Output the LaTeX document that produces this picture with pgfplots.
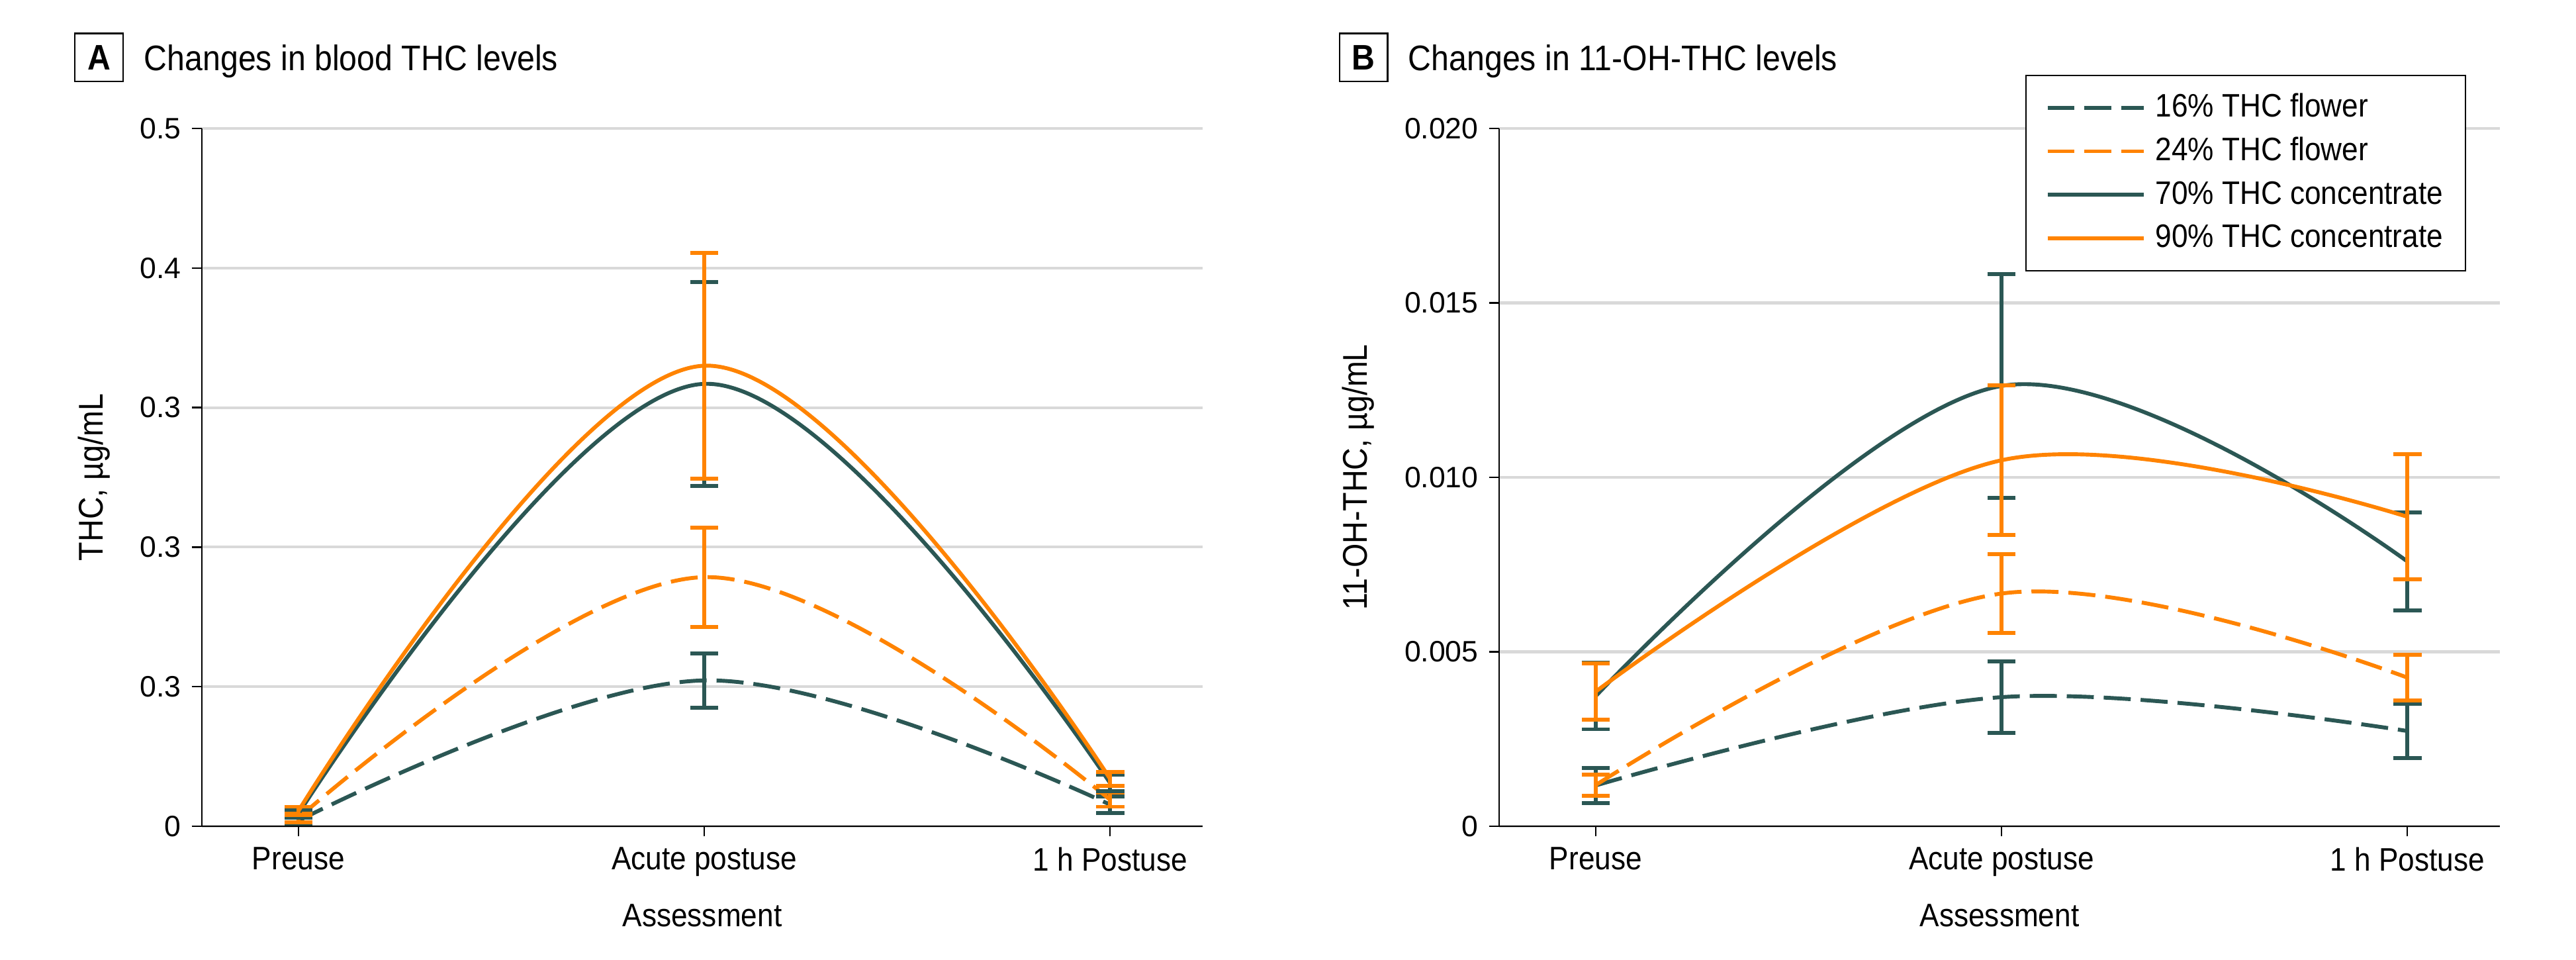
\documentclass[border=0pt]{standalone}
\usepackage{pgfplots}
\pgfplotsset{compat=1.18}
\usepackage{pgfplotstable}
\usepackage{fontspec}
\setmainfont{Liberation Sans}[FakeStretch=0.9]
\newfontfamily\tickfont{Liberation Sans}

\definecolor{darkteal}{HTML}{2B5754}
\definecolor{thcorange}{HTML}{FF8300}
\definecolor{gridgray}{HTML}{D9D9D9}

% columns: assessment (0 preuse, 1 acute, 2 1 h post), mean, error
\pgfplotstableread{
x y e
0 0.004 0.002
1 0.1045 0.0195
2 0.0155 0.006
}\aSixteen
\pgfplotstableread{
x y e
0 0.006 0.003
1 0.1785 0.0355
2 0.019 0.005
}\aTwentyFour
\pgfplotstableread{
x y e
0 0.009 0.003
1 0.317 0.073
2 0.031 0.006
}\aSeventy
\pgfplotstableread{
x y e
0 0.011 0.003
1 0.330 0.081
2 0.034 0.005
}\aNinety

\pgfplotstableread{
x y e
0 0.00117 0.0005
1 0.0037 0.00102
2 0.00273 0.00077
}\bSixteen
\pgfplotstableread{
x y e
0 0.00118 0.0003
1 0.00667 0.00113
2 0.00426 0.00066
}\bTwentyFour
\pgfplotstableread{
x y e
0 0.00373 0.00095
1 0.01262 0.0032
2 0.00759 0.0014
}\bSeventy
\pgfplotstableread{
x y e
0 0.00386 0.0008
1 0.01049 0.00214
2 0.00887 0.0018
}\bNinety

\def\px{0.22pt}

\pgfplotsset{
  panel/.style={
    scale only axis,
    width=332.64pt, height=231.88pt,
    xmin=-0.238, xmax=2.228,
    axis x line*=bottom, axis y line*=left,
    axis line style={line width=0.6pt, black},
    tick align=outside, major tick length=3.4pt,
    tick style={line width=0.5pt, black},
    xtick={0,1,2},
    xticklabels={Preuse, Acute postuse, 1 h Postuse},
    ymajorgrids, grid style={line width=0.9pt, gridgray},
    scaled y ticks=false,
    xticklabel style={font=\fontsize{10.8}{12}\selectfont},
    yticklabel style={font=\tickfont\fontsize{9.8}{11}\selectfont},
    /pgf/number format/assume math mode=true,
    xlabel={Assessment},
    xlabel style={font=\fontsize{10.8}{12}\selectfont,
      at={(axis description cs:0.5,-0.1442)}, anchor=base},
    ylabel style={font=\fontsize{11.4}{13}\selectfont, anchor=center},
    clip=false,
  },
  ser/.style={
    smooth, tension=0.6, line width=1.3pt,
    error bars/y dir=both, error bars/y explicit,
    error bars/error bar style={line width=1.2pt, solid},
    error bars/error mark options={rotate=90, line width=1.3pt, mark size=4.7pt, solid},
  },
  dsh/.style={dash pattern=on 9pt off 3.3pt},
}

\begin{document}
\begin{tikzpicture}
\path[use as bounding box] (0,0) rectangle ({3892*\px},{1450*\px});

% panel titles
\node[draw, line width=0.5pt, minimum size=16pt, inner sep=0pt,
  font=\bfseries\fontsize{11.8}{13}\selectfont] at ({149.5*\px},{1363*\px}) {A};
\node[anchor=base west, inner sep=0pt, font=\fontsize{11.8}{13}\selectfont]
  at ({217*\px},{1343*\px}) {Changes in blood THC levels};
\node[draw, line width=0.5pt, minimum size=16pt, inner sep=0pt,
  font=\bfseries\fontsize{11.8}{13}\selectfont] at ({2060*\px},{1363*\px}) {B};
\node[anchor=base west, inner sep=0pt, font=\fontsize{11.8}{13}\selectfont]
  at ({2127*\px},{1343*\px}) {Changes in 11-OH-THC levels};

\begin{axis}[panel,
  at={({305*\px},{202*\px})}, anchor=south west,
  ymin=0, ymax=0.5,
  ytick={0,0.1,0.2,0.3,0.4,0.5},
  yticklabels={0,0.3,0.3,0.3,0.4,0.5},
  ylabel={THC, µg/mL},
  ylabel style={at={(axis description cs:-0.1078,0.5)}},
]
\addplot[darkteal, dsh, ser] table[x=x, y=y, y error=e] {\aSixteen};
\addplot[thcorange, dsh, ser] table[x=x, y=y, y error=e] {\aTwentyFour};
\addplot[darkteal, ser] table[x=x, y=y, y error=e] {\aSeventy};
\addplot[thcorange, ser] table[x=x, y=y, y error=e] {\aNinety};
\end{axis}

\begin{axis}[panel,
  at={({2265*\px},{202*\px})}, anchor=south west,
  ymin=0, ymax=0.02,
  ytick={0,0.005,0.010,0.015,0.020},
  yticklabels={0,0.005,0.010,0.015,0.020},
  ylabel={11-OH-THC, µg/mL},
  ylabel style={at={(axis description cs:-0.1409,0.5)}},
  legend style={at={(axis description cs:0.9665,1.077)}, anchor=north east,
    draw=black, line width=0.5pt, fill=white,
    inner xsep=6.5pt, inner ysep=4.7pt, row sep=2.5pt,
    font=\fontsize{10.8}{12}\selectfont,
    nodes={inner sep=1pt, text height=8pt, text depth=2pt},
    /tikz/every odd column/.append style={column sep=2.2pt}},
  legend cell align=left,
  legend image code/.code={\draw[#1, line width=1.3pt] (0pt,0pt) -- (32pt,0pt);},
]
\addplot[darkteal, dsh, ser] table[x=x, y=y, y error=e] {\bSixteen};
\addlegendentry{16\% THC flower}
\addplot[thcorange, dsh, ser] table[x=x, y=y, y error=e] {\bTwentyFour};
\addlegendentry{24\% THC flower}
\addplot[darkteal, ser] table[x=x, y=y, y error=e] {\bSeventy};
\addlegendentry{70\% THC concentrate}
\addplot[thcorange, ser] table[x=x, y=y, y error=e] {\bNinety};
\addlegendentry{90\% THC concentrate}
\end{axis}
\end{tikzpicture}
\end{document}
